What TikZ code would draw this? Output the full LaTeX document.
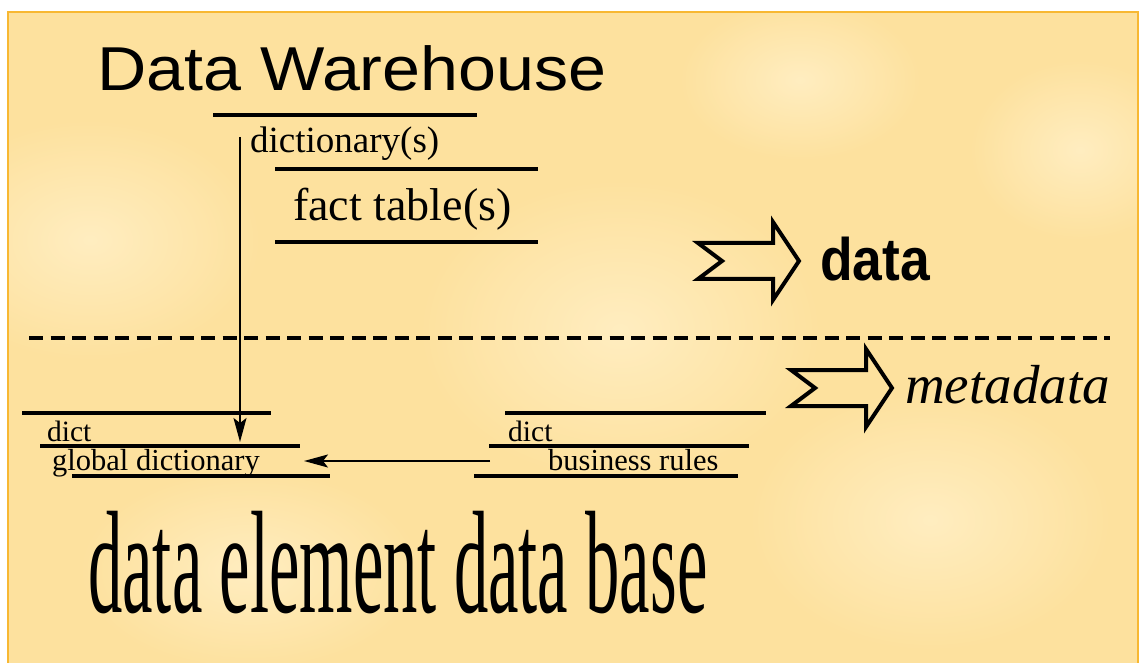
\documentclass[tikz,border=0pt]{standalone}
\usepackage{fontspec}
\setmainfont{Liberation Serif}
\newfontfamily\dwsans{Liberation Sans}
\usetikzlibrary{arrows.meta}
\definecolor{bgcol}{RGB}{253,225,158}
\definecolor{bglight}{RGB}{255,237,192}
\definecolor{framecol}{RGB}{248,184,50}
\tikzset{
  notcharrow/.pic={\draw[line width=4pt, line join=miter]
    (0,-18) -- (75,-18) -- (75,-39) -- (101,0) -- (75,39) -- (75,18) -- (0,18) -- (24,0) -- cycle;}
}
\begin{document}
\begin{tikzpicture}[x=1pt,y=-1pt,
  rule/.style={line width=4.3pt},
  txt/.style={inner sep=0pt, anchor=base west},
  link/.style={line width=1.8pt, -{Stealth[length=24pt,width=13pt,inset=5pt]}},
  glow/.style={inner color=bglight, outer color=bgcol}]
\useasboundingbox (0,0) rectangle (1141,663);
\fill[white] (0,0) rectangle (1141,663);
\begin{scope}
\clip (8,12) rectangle (1138,663);
\fill[bgcol] (8,12) rectangle (1138,663);
\shade[glow] (90,240) ellipse (170 and 120);
\shade[glow] (620,330) ellipse (200 and 150);
\shade[glow] (930,520) ellipse (180 and 130);
\shade[glow] (1080,150) ellipse (110 and 90);
\shade[glow] (250,570) ellipse (170 and 100);
\shade[glow] (800,80) ellipse (120 and 80);
\end{scope}
\draw[framecol, line width=2.5pt] (8,680) -- (8,12) -- (1138,12) -- (1138,680);

% Data Warehouse group
\node[txt, font=\dwsans\fontsize{62}{62}\selectfont] (dw) at (97,91) {\scalebox{1.1}[1]{Data Warehouse}};
\draw[rule] (213,115) -- (477,115);
\node[txt, font=\fontsize{37}{37}\selectfont] (dicts) at (250,153) {dictionary(s)};
\draw[rule] (275,169) -- (538,169);
\node[txt, font=\fontsize{46}{46}\selectfont] (fact) at (293,221) {fact table(s)};
\draw[rule] (275,242) -- (538,242);

% legend arrows
\pic at (698,261) {notcharrow};
\node[txt, font=\dwsans\bfseries\fontsize{60}{60}\selectfont] (datalbl) at (820,280) {\scalebox{0.89}[1]{data}};
\draw[line width=4pt, dash pattern=on 14pt off 7.5pt] (29,338) -- (1110,338);
\pic at (791,388) {notcharrow};
\node[txt, font=\itshape\fontsize{55}{55}\selectfont] (metalbl) at (905,403) {metadata};

% left stack
\draw[rule] (22,413) -- (271,413);
\node[txt, font=\fontsize{29.5}{29.5}\selectfont] (dictL) at (47,441) {dict};
\draw[rule] (40,446) -- (300,446);
\node[txt, font=\fontsize{30.5}{30.5}\selectfont] (gdict) at (52,470) {global dictionary};
\draw[rule] (72,476) -- (330,476);

% right stack
\draw[rule] (505,413) -- (766,413);
\node[txt, font=\fontsize{29.5}{29.5}\selectfont] (dictR) at (508,441) {dict};
\draw[rule] (489,446) -- (749,446);
\node[txt, font=\fontsize{30.5}{30.5}\selectfont] (brules) at (548,470) {business rules};
\draw[rule] (474,476) -- (738,476);

% connectors
\coordinate (vtop) at (240,137);
\coordinate (vend) at (240,442);
\coordinate (hstart) at (490,461);
\coordinate (hend) at (304,461);
\draw[link] (vtop) -- (vend);
\draw[link] (hstart) -- (hend);

% title
\node[txt, font=\fontsize{146}{146}\selectfont] (title) at (88,612) {\scalebox{0.47}[1]{data element data base}};
\end{tikzpicture}
\end{document}
